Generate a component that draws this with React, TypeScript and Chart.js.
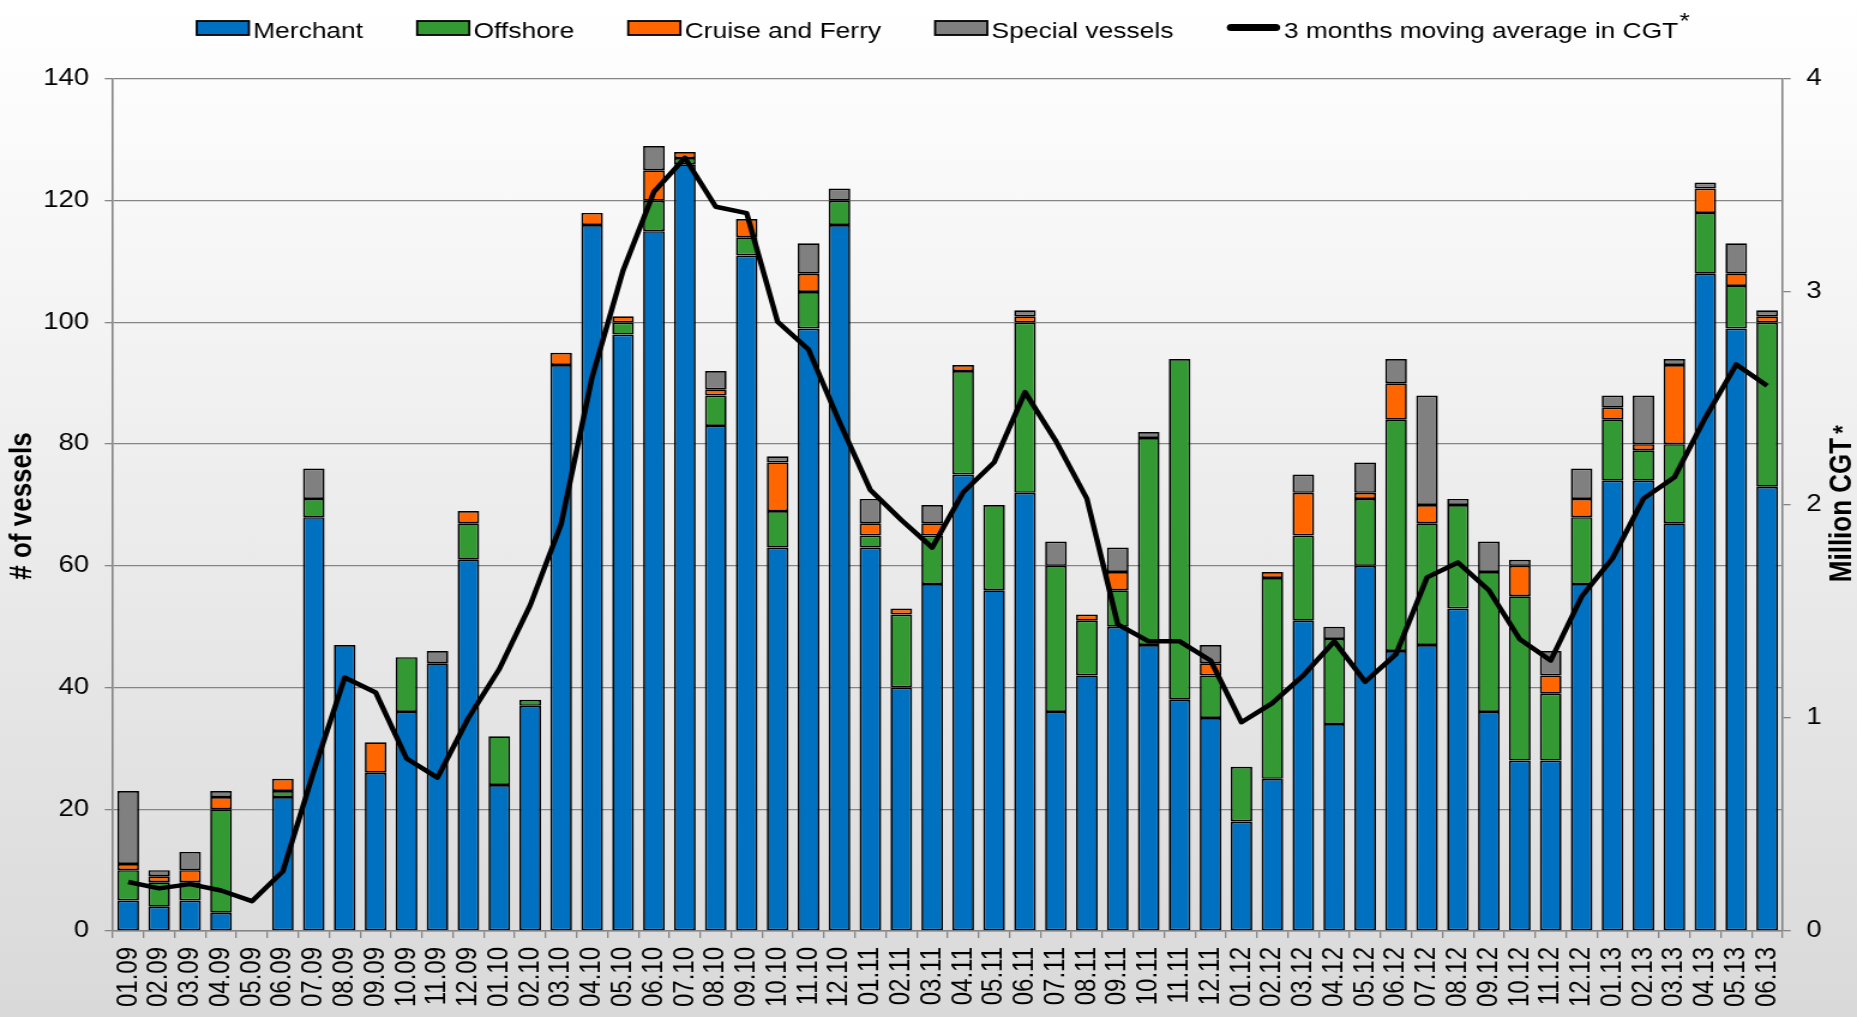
import { useEffect, useRef } from 'react';
import { Chart, registerables } from 'chart.js';

Chart.register(...registerables);

// ---------- data ----------
const months = [
  '01.09', '02.09', '03.09', '04.09', '05.09', '06.09', '07.09', '08.09', '09.09', '10.09', '11.09', '12.09',
  '01.10', '02.10', '03.10', '04.10', '05.10', '06.10', '07.10', '08.10', '09.10', '10.10', '11.10', '12.10',
  '01.11', '02.11', '03.11', '04.11', '05.11', '06.11', '07.11', '08.11', '09.11', '10.11', '11.11', '12.11',
  '01.12', '02.12', '03.12', '04.12', '05.12', '06.12', '07.12', '08.12', '09.12', '10.12', '11.12', '12.12',
  '01.13', '02.13', '03.13', '04.13', '05.13', '06.13',
];

const merchant = [
  5, 4, 5, 3, 0, 22, 68, 47, 26, 36, 44, 61,
  24, 37, 93, 116, 98, 115, 126, 83, 111, 63, 99, 116,
  63, 40, 57, 75, 56, 72, 36, 42, 50, 47, 38, 35,
  18, 25, 51, 34, 60, 46, 47, 53, 36, 28, 28, 57,
  74, 74, 67, 108, 99, 73,
];

const offshore = [
  5, 4, 3, 17, 0, 1, 3, 0, 0, 9, 0, 6,
  8, 1, 0, 0, 2, 5, 1, 5, 3, 6, 6, 4,
  2, 12, 8, 17, 14, 28, 24, 9, 6, 34, 56, 7,
  9, 33, 14, 14, 11, 38, 20, 17, 23, 27, 11, 11,
  10, 5, 13, 10, 7, 27,
];

const cruiseFerry = [
  1, 1, 2, 2, 0, 2, 0, 0, 5, 0, 0, 2,
  0, 0, 2, 2, 1, 5, 1, 1, 3, 8, 3, 0,
  2, 1, 2, 1, 0, 1, 0, 1, 3, 0, 0, 2,
  0, 1, 7, 0, 1, 6, 3, 0, 0, 5, 3, 3,
  2, 1, 13, 4, 2, 1,
];

const specialVessels = [
  12, 1, 3, 1, 0, 0, 5, 0, 0, 0, 2, 0,
  0, 0, 0, 0, 0, 4, 0, 3, 0, 1, 5, 2,
  4, 0, 3, 0, 0, 1, 4, 0, 4, 1, 0, 3,
  0, 0, 3, 2, 5, 4, 18, 1, 5, 1, 4, 5,
  2, 8, 1, 1, 5, 1,
];

const movingAvgCGT = [
  0.23, 0.2, 0.22, 0.19, 0.14, 0.28, 0.75, 1.19, 1.12, 0.81, 0.72, 1.0,
  1.23, 1.53, 1.91, 2.6, 3.1, 3.47, 3.63, 3.4, 3.37, 2.86, 2.73, 2.39,
  2.07, 1.93, 1.8, 2.06, 2.2, 2.53, 2.3, 2.03, 1.44, 1.36, 1.36, 1.27,
  0.98, 1.07, 1.2, 1.36, 1.17, 1.3, 1.66, 1.73, 1.6, 1.37, 1.27, 1.57,
  1.75, 2.03, 2.13, 2.41, 2.66, 2.56,
];

const leftTicksMax = 140;
const leftTickStep = 20;
const rightTicksMax = 4;
const rightTickStep = 1;

// ---------- layout / style ----------
const FULL_W = 1857;
const FULL_H = 1017;
const STRETCH = 1.2; // reference text/lines are horizontally stretched
const W = Math.round(FULL_W / STRETCH);
const FONT = '"Liberation Sans", Arial, Helvetica, sans-serif';
const GRID = '#858585';

const COLORS = {
  merchant: '#0070C0',
  offshore: '#339933',
  cruise: '#FF6600',
  special: '#808080',
};

const nz = (arr: number[]) => arr.map((v) => (v === 0 ? null : v));

const legendPlugin = {
  id: 'customLegend',
  afterDraw(chart: any) {
    const ctx = chart.ctx as CanvasRenderingContext2D;
    ctx.save();
    ctx.font = `22px ${FONT}`;
    ctx.textAlign = 'left';
    ctx.textBaseline = 'alphabetic';
    const boxW = 43.5;
    const boxTop = 21;
    const boxH = 14;
    const textY = 38;
    let x = 164;
    const ordered = [...chart.data.datasets].sort((a: any, b: any) => (a.legendIndex ?? 0) - (b.legendIndex ?? 0));
    ordered.forEach((ds: any) => {
      if (ds.type === 'line') {
        ctx.strokeStyle = '#000';
        ctx.lineWidth = 7;
        ctx.lineCap = 'round';
        ctx.beginPath();
        ctx.moveTo(x + 3, 27.5);
        ctx.lineTo(x + boxW - 3, 27.5);
        ctx.stroke();
      } else {
        ctx.fillStyle = ds.backgroundColor;
        ctx.fillRect(x, boxTop, boxW, boxH);
        ctx.strokeStyle = '#000';
        ctx.lineWidth = 1.8;
        ctx.strokeRect(x, boxTop, boxW, boxH);
      }
      ctx.fillStyle = '#000';
      ctx.font = `22px ${FONT}`;
      const tx = x + boxW + 3.5;
      ctx.fillText(ds.label, tx, textY);
      const tw = ctx.measureText(ds.label).width;
      if (ds.type === 'line') {
        ctx.fillText('*', tx + tw + 1, 28);
      }
      x = tx + tw + 45;
    });
    ctx.restore();
  },
};

const titlesPlugin = {
  id: 'axisTitles',
  afterDraw(chart: any) {
    const ctx = chart.ctx as CanvasRenderingContext2D;
    ctx.save();
    ctx.fillStyle = '#000';
    ctx.font = `bold 26px ${FONT}`;
    ctx.textAlign = 'center';
    ctx.textBaseline = 'middle';
    ctx.translate(18.5, 506);
    ctx.rotate(-Math.PI / 2);
    ctx.fillText('# of vessels', 0, 0);
    ctx.restore();

    ctx.save();
    ctx.fillStyle = '#000';
    ctx.font = `bold 26px ${FONT}`;
    ctx.textAlign = 'center';
    ctx.textBaseline = 'middle';
    ctx.translate(1535.5, 510);
    ctx.rotate(-Math.PI / 2);
    const main = 'Million CGT';
    const mw = ctx.measureText(main).width;
    ctx.fillText(main, 0, 0);
    ctx.textAlign = 'left';
    ctx.font = `bold 22px ${FONT}`;
    ctx.fillText('*', mw / 2 + 4, 1);
    ctx.restore();
  },
};

export default function App() {
  const ref = useRef<HTMLCanvasElement>(null);

  useEffect(() => {
    if (!ref.current) return;
    const barCommon = {
      type: 'bar' as const,
      yAxisID: 'y',
      borderColor: '#000',
      borderWidth: 1.7,
      borderSkipped: false as const,
      barPercentage: 0.7,
      categoryPercentage: 1.0,
      order: 1,
    };
    const chart = new Chart(ref.current, {
      type: 'bar',
      data: {
        labels: months,
        datasets: [
          { ...barCommon, label: 'Merchant', data: nz(merchant), backgroundColor: COLORS.merchant, legendIndex: 0 } as any,
          { ...barCommon, label: 'Offshore', data: nz(offshore), backgroundColor: COLORS.offshore, legendIndex: 1 } as any,
          { ...barCommon, label: 'Cruise and Ferry', data: nz(cruiseFerry), backgroundColor: COLORS.cruise, legendIndex: 2 } as any,
          { ...barCommon, label: 'Special vessels', data: nz(specialVessels), backgroundColor: COLORS.special, legendIndex: 3 } as any,
          {
            type: 'line',
            label: '3 months moving average in CGT',
            data: movingAvgCGT,
            yAxisID: 'y1',
            borderColor: '#000',
            backgroundColor: '#000',
            borderWidth: 4.5,
            pointRadius: 0,
            tension: 0,
            borderJoinStyle: 'round',
            order: 0,
            legendIndex: 4,
          } as any,
        ],
      },
      options: {
        responsive: false,
        animation: false,
        devicePixelRatio: 1,
        layout: { padding: { top: 79, left: 0, right: 0, bottom: 0 } },
        plugins: {
          legend: { display: false },
          tooltip: { enabled: false },
          title: { display: false },
        },
        scales: {
          x: {
            stacked: true,
            offset: true,
            grid: {
              display: true,
              drawOnChartArea: false,
              drawTicks: true,
              tickLength: 7,
              color: GRID,
              lineWidth: 1.3,
              offset: true,
            },
            border: { display: true, color: GRID, width: 1.6 },
            ticks: {
              color: '#000',
              font: { family: FONT, size: 24 },
              maxRotation: 90,
              minRotation: 90,
              padding: 9,
              autoSkip: false,
            },
            afterFit: (s: any) => {
              s.height = 86;
            },
          },
          y: {
            stacked: true,
            position: 'left',
            min: 0,
            max: leftTicksMax,
            ticks: {
              stepSize: leftTickStep,
              color: '#000',
              font: { family: FONT, size: 23 },
              padding: 13,
            },
            grid: { color: GRID, lineWidth: 1.3, tickLength: 6.7 },
            border: { display: true, color: GRID, width: 1.6 },
            afterFit: (s: any) => {
              s.width = 94;
            },
          },
          y1: {
            position: 'right',
            min: 0,
            max: rightTicksMax,
            ticks: {
              stepSize: rightTickStep,
              color: '#000',
              font: { family: FONT, size: 23 },
              padding: 13,
            },
            grid: { drawOnChartArea: false, color: GRID, lineWidth: 1.3, tickLength: 6.7 },
            border: { display: true, color: GRID, width: 1.6 },
            afterFit: (s: any) => {
              s.width = W - 1486;
            },
          },
        },
      } as any,
      plugins: [legendPlugin, titlesPlugin],
    });
    return () => chart.destroy();
  }, []);

  return (
    <div
      style={{
        position: 'fixed',
        left: 0,
        top: 0,
        width: FULL_W,
        height: FULL_H,
        overflow: 'hidden',
        background: 'linear-gradient(to bottom, #ffffff 0%, #fafafa 15%, #d9d9d9 100%)',
      }}
    >
      <canvas
        ref={ref}
        width={W}
        height={FULL_H}
        style={{ width: `${FULL_W}px`, height: `${FULL_H}px`, display: 'block' }}
      />
    </div>
  );
}
